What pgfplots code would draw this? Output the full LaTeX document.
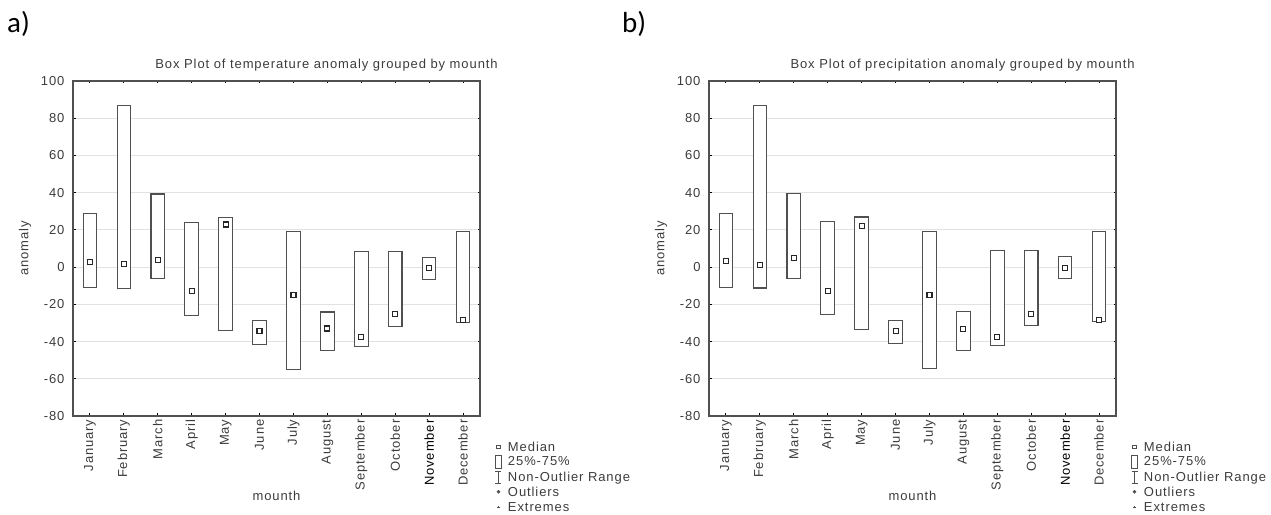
\documentclass[border=0pt]{standalone}
\usepackage{pgfplots}
\pgfplotsset{compat=1.18}
\usepgfplotslibrary{statistics}
\usepackage{fontspec}
\setmainfont{Liberation Sans}
\newfontfamily\statfont{Liberation Sans}[LetterSpace=7]
\newfontfamily\capfont{Carlito}
\definecolor{txt}{HTML}{3C3C3C}
\definecolor{frame}{HTML}{505050}
\definecolor{gridc}{HTML}{E2E2E2}
\newcommand{\sfs}{\statfont\fontsize{13bp}{15bp}\selectfont}
\newcommand{\bx}[4]{\addplot[mbox, boxplot prepared={draw position=#1, lower whisker=#2, lower quartile=#2, median=#3, upper quartile=#4, upper whisker=#4, box extend=0.4}] coordinates {};}

\pgfplotsset{
 mbox/.style={draw=frame, fill=white, line width=1.1bp, solid},
 statbox/.style={
  scale only axis, width=407bp, height=335bp,
  xmin=-0.5, xmax=11.5, ymin=-80, ymax=100,
  ytick={-80,-60,...,100},
  xtick={0,...,11},
  xticklabels={January,February,March,April,May,June,July,August,September,October,{\color{black}November},December},
  xticklabel style={rotate=90, anchor=east, font=\sfs, text=txt},
  yticklabel style={font=\sfs, text=txt, xshift=-5bp},
  /pgf/number format/assume math mode=true,
  ymajorgrids, grid style={gridc, line width=1bp},
  axis line style={frame, line width=1.3bp},
  tick align=inside, major tick length=2.5bp, tick style={black, line width=1bp},
  xlabel={mounth}, ylabel={anomaly},
  xlabel style={at={(axis description cs:0.5,-0.239)}, anchor=center, font=\sfs, text=txt},
  ylabel style={at={(axis description cs:-0.118,0.5)}, anchor=center, font=\sfs, text=txt},
  title style={at={(axis description cs:0.623,1.030)}, anchor=center, font=\sfs, text=txt},
  legend style={at={(axis description cs:1.029,-0.064)}, anchor=north west, draw=none, fill=none,
    font=\sfs, text=txt, row sep=0.3bp,
    /tikz/every odd column/.append style={column sep=4bp}},
  legend cell align=left,
  boxplot/draw direction=y,
  boxplot/draw/median/.code={},
  boxplot/draw/lower whisker/.code={},
  boxplot/draw/upper whisker/.code={},
  boxplot/draw/average/.code={},
 },
}

\newcommand{\statlegend}{%
  \addlegendimage{legend image code/.code={\draw[draw=none] (0,0) -- (7bp,0); \draw[frame, fill=white, line width=1.2bp] (1.8bp,-1.8bp) rectangle (5.2bp,1.8bp);}}
  \addlegendentry{Median}
  \addlegendimage{legend image code/.code={\draw[draw=none] (0,0) -- (7bp,0); \draw[frame, line width=0.9bp] (0.8bp,-6.5bp) rectangle (6.2bp,6.5bp);}}
  \addlegendentry{25\%-75\%}
  \addlegendimage{legend image code/.code={\draw[draw=none] (0,0) -- (7bp,0); \draw[frame, line width=0.9bp] (0.5bp,-6bp) -- (6.5bp,-6bp) (3.5bp,-6bp) -- (3.5bp,6bp) (0.5bp,6bp) -- (6.5bp,6bp);}}
  \addlegendentry{Non-Outlier Range}
  \addlegendimage{legend image code/.code={\draw[draw=none] (0,0) -- (7bp,0); \fill[frame] (3.5bp,0.5bp) circle (1.6bp);}}
  \addlegendentry{Outliers}
  \addlegendimage{legend image code/.code={\draw[draw=none] (0,0) -- (7bp,0); \draw[frame, line width=0.7bp] (2.3bp,0) -- (4.7bp,0) (3.5bp,-1.2bp) -- (3.5bp,1.2bp);}}
  \addlegendentry{Extremes}
}

\begin{document}
\begin{tikzpicture}
\useasboundingbox (0,0) rectangle (1271bp,515bp);
\node[anchor=base west, inner sep=0pt, font=\capfont\fontsize{29bp}{32bp}\selectfont] at (7bp,482bp) {a)};
\node[anchor=base west, inner sep=0pt, font=\capfont\fontsize{29bp}{32bp}\selectfont] at (622bp,482bp) {b)};

% a) temperature
\begin{axis}[statbox, at={(73bp,99bp)}, anchor=south west,
  title={Box Plot of temperature anomaly grouped by mounth}]
\statlegend
\bx{0}{-11}{2.7}{28.8}
\bx{1}{-11.5}{1.6}{86.6}
\bx{2}{-6.3}{3.6}{39.3}
\bx{3}{-25.8}{-13}{24.1}
\bx{4}{-34}{22.9}{26.7}
\bx{5}{-41.6}{-34.4}{-28.6}
\bx{6}{-55}{-15.1}{19.3}
\bx{7}{-45}{-33}{-24.1}
\bx{8}{-42.5}{-37.5}{8.5}
\bx{9}{-31.7}{-25.4}{8.5}
\bx{10}{-6.7}{-0.7}{5.2}
\bx{11}{-30}{-28.6}{19.3}
\addplot[only marks, mark=square*, mark size=2.5bp, mark options={fill=white, draw=black!85, line width=1.1bp}]
 coordinates {(0,2.7) (1,1.6) (2,3.6) (3,-13) (4,22.9) (5,-34.4) (6,-15.1) (7,-33) (8,-37.5) (9,-25.4) (10,-0.7) (11,-28.6)};
\end{axis}

% b) precipitation
\begin{axis}[statbox, at={(709bp,99bp)}, anchor=south west,
  title={Box Plot of precipitation anomaly grouped by mounth}]
\statlegend
\bx{0}{-10.9}{3.4}{28.8}
\bx{1}{-11.2}{1.1}{87}
\bx{2}{-6}{4.8}{39.6}
\bx{3}{-25.6}{-13}{24.4}
\bx{4}{-33.5}{22.2}{26.9}
\bx{5}{-41.1}{-34.3}{-28.5}
\bx{6}{-54.3}{-15.1}{19.2}
\bx{7}{-44.7}{-33.3}{-23.7}
\bx{8}{-42}{-37.5}{8.9}
\bx{9}{-31.3}{-25.3}{8.9}
\bx{10}{-6.2}{-0.7}{5.7}
\bx{11}{-29.2}{-28.6}{19.2}
\addplot[only marks, mark=square*, mark size=2.5bp, mark options={fill=white, draw=black!85, line width=1.1bp}]
 coordinates {(0,3.4) (1,1.1) (2,4.8) (3,-13) (4,22.2) (5,-34.3) (6,-15.1) (7,-33.3) (8,-37.5) (9,-25.3) (10,-0.7) (11,-28.6)};
\end{axis}
\end{tikzpicture}
\end{document}
